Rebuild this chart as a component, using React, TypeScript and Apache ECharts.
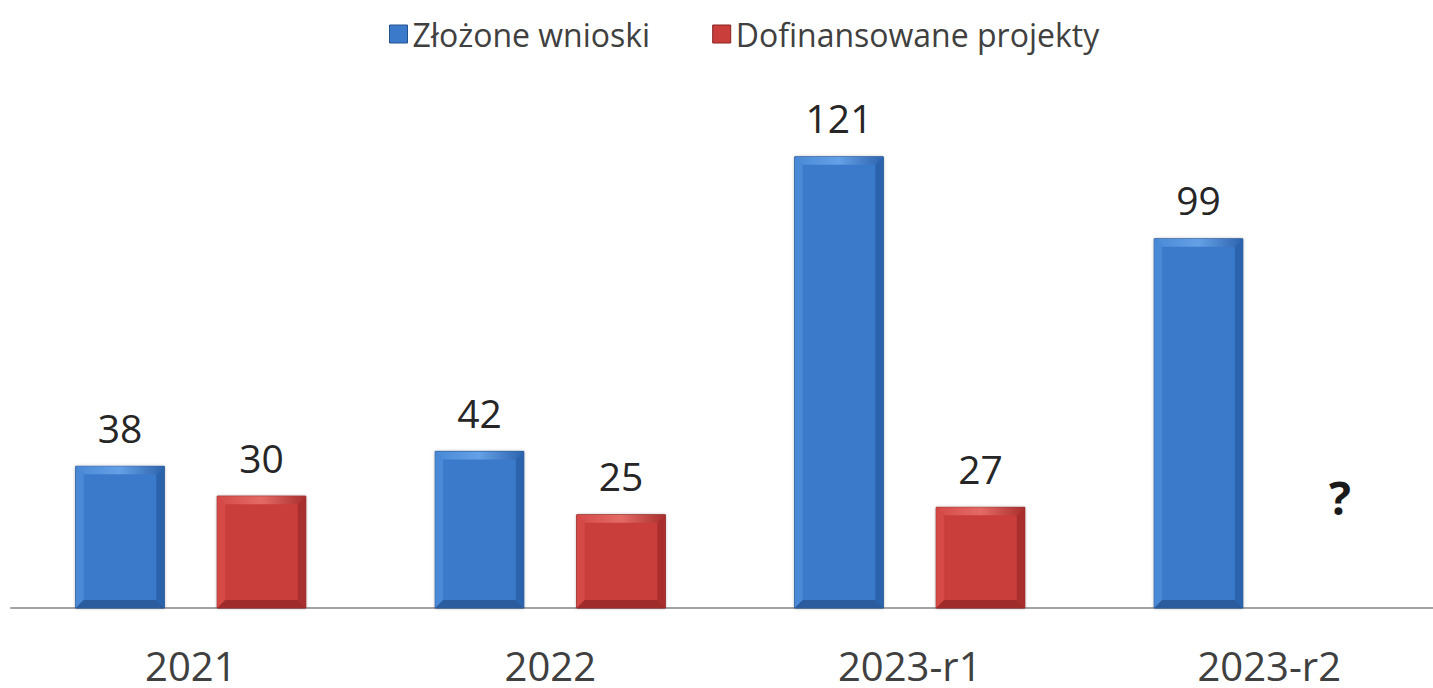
import React, { useEffect, useRef } from "react";
import * as echarts from "echarts";

const categories = ["2021", "2022", "2023-r1", "2023-r2"];
const submitted = [38, 42, 121, 99];
const funded: (number | null)[] = [30, 25, 27, null];
const seriesNames = ["Złożone wnioski", "Dofinansowane projekty"];
const unknownMark = "?";

const palettes = [
  { main: "#3b7acb", top: "#64a0e6", left: "#4a89d6", right: "#2c63ad", bottom: "#2b5c9d", edge: "#24518c" },
  { main: "#c93d3b", top: "#e46a66", left: "#d54a47", right: "#a82f2d", bottom: "#9f2c2a", edge: "#862422" },
];

const FONT = '"Open Sans", "Noto Sans", sans-serif';

function makeRender(seriesIdx: number) {
  const pal = palettes[seriesIdx];
  return (params: any, api: any) => {
    const i = api.value(0);
    const v = api.value(1);
    const band = api.size([1, 0])[0];
    const base = api.coord([i, 0]);
    const cx = base[0] + (seriesIdx === 0 ? -1 : 1) * band * 0.1968;
    if (v === null || v === undefined || isNaN(v)) {
      return {
        type: "text",
        style: {
          text: unknownMark,
          x: cx,
          y: base[1] - 111,
          align: "center",
          verticalAlign: "middle",
          font: `bold 46px ${FONT}`,
          fill: "#1a1a1a",
        },
      };
    }
    const top = api.coord([i, v]);
    const w = band * 0.2464;
    const x0 = cx - w / 2;
    const x1 = cx + w / 2;
    const y0 = top[1];
    const y1 = base[1];
    const b = 8;
    return {
      type: "group",
      children: [
        {
          type: "rect",
          shape: { x: x0, y: y0, width: w, height: y1 - y0 },
          style: { fill: pal.main, stroke: pal.edge, lineWidth: 1, shadowBlur: 3, shadowColor: "rgba(0,0,0,0.25)" },
        },
        {
          type: "polygon",
          shape: { points: [[x0, y0], [x1, y0], [x1 - b, y0 + b], [x0 + b, y0 + b]] },
          style: {
            fill: new echarts.graphic.LinearGradient(0, 0, 1, 0, [
              { offset: 0, color: pal.left },
              { offset: 0.5, color: pal.top },
              { offset: 1, color: pal.right },
            ]),
          },
        },
        {
          type: "polygon",
          shape: { points: [[x0, y0], [x0 + b, y0 + b], [x0 + b, y1 - b], [x0, y1]] },
          style: { fill: pal.left },
        },
        {
          type: "polygon",
          shape: { points: [[x1, y0], [x1 - b, y0 + b], [x1 - b, y1 - b], [x1, y1]] },
          style: { fill: pal.right },
        },
        {
          type: "polygon",
          shape: { points: [[x0, y1], [x0 + b, y1 - b], [x1 - b, y1 - b], [x1, y1]] },
          style: { fill: pal.bottom },
        },
        {
          type: "text",
          style: {
            text: String(v),
            x: cx,
            y: y0 - 39,
            align: "center",
            verticalAlign: "middle",
            font: `39px ${FONT}`,
            fill: "#262626",
          },
        },
      ],
    };
  };
}

export default function App() {
  const ref = useRef<HTMLDivElement>(null);
  useEffect(() => {
    if (!ref.current) return;
    const chart = echarts.init(ref.current, undefined, { renderer: "svg" });
    chart.setOption({
      animation: false,
      backgroundColor: "#ffffff",
      legend: {
        left: 384,
        top: 13,
        itemWidth: 18,
        itemHeight: 18,
        itemGap: 62,
        textStyle: { fontSize: 32, fontFamily: FONT, color: "#404040" },
        data: seriesNames.map((n, k) => ({
          name: n,
          icon: "rect",
          itemStyle: { color: palettes[k].main, borderColor: palettes[k].edge, borderWidth: 1 },
        })),
      },
      grid: {
        left: 11,
        width: 1438,
        top: 86,
        height: 522,
        containLabel: false,
        outerBoundsMode: "none",
      },
      xAxis: {
        type: "category",
        data: categories,
        axisTick: { show: false },
        axisLine: { show: true, lineStyle: { color: "#a3a3a3", width: 2 } },
        axisLabel: { fontSize: 40, lineHeight: 40, fontFamily: FONT, color: "#404040", margin: 37 },
      },
      yAxis: { type: "value", min: 0, max: 140, show: false, splitLine: { show: false } },
      series: [
        {
          name: seriesNames[0],
          type: "custom",
          renderItem: makeRender(0),
          itemStyle: { color: palettes[0].main },
          encode: { x: 0, y: 1 },
          data: submitted.map((v, i) => [i, v]),
        },
        {
          name: seriesNames[1],
          type: "custom",
          renderItem: makeRender(1),
          itemStyle: { color: palettes[1].main },
          encode: { x: 0, y: 1 },
          data: funded.map((v, i) => [i, v === null ? "-" : v]),
        },
      ],
    });
    return () => chart.dispose();
  }, []);
  return (
    <div
      ref={ref}
      style={{ position: "absolute", left: 0, top: 0, width: 1433, height: 688, overflow: "hidden" }}
    />
  );
}
